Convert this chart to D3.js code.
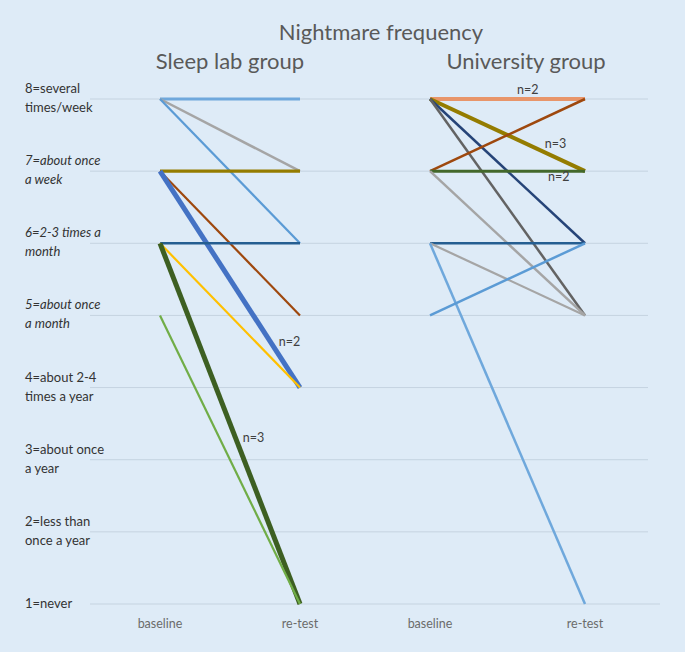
<!DOCTYPE html>
<html><head><meta charset="utf-8">
<script src="https://cdn.jsdelivr.net/npm/d3@7"></script>
<style>
html,body{margin:0;padding:0;background:#deebf7;}
svg{display:block;}
text{font-family:Lato,"Open Sans",sans-serif;}
</style></head><body>
<svg id="c" width="685" height="652"></svg>
<script>
// ---- data ----
const levels = [1,2,3,4,5,6,7,8];
const levelLabels = [
  ["1=never"],
  ["2=less than","once a year"],
  ["3=about once","a year"],
  ["4=about 2-4","times a year"],
  ["5=about once","a month"],
  ["6=2-3 times a","month"],
  ["7=about once","a week"],
  ["8=several","times/week"]
];
const italicLevels = [5,6,7];
const timepoints = ["baseline","re-test"];

const sleepBaseline = [8,8,8,7,7,7,6,6,6,5];
const sleepRetest   = [8,7,6,7,5,4,6,4,1,1];
const sleepN        = [1,1,1,1,1,2,1,1,3,1];

const uniBaseline = [8,8,8,8,7,7,7,6,6,6,5];
const uniRetest   = [8,7,6,5,8,7,5,6,5,1,6];
const uniN        = [2,3,1,1,1,2,1,1,1,1,1];

// ---- styles ----
const sleepColors = ["#6fa8dc","#a5a5a5","#5b9bd5","#947c00","#9e480e","#4472c4","#255e91","#ffc000","#3d5f22","#70ad47"];
const sleepWidths = [3,2.5,2.2,3.2,2.2,5,2.5,2.2,5,2.2];
const uniColors = ["#e8956a","#947c00","#264478","#636363","#9e480e","#43682b","#a5a5a5","#255e91","#a5a5a5","#6fa8dc","#5b9bd5"];
const uniWidths = [4,4,2.5,2.5,2.5,3,2.5,2.5,2.2,2.5,2.5];

const svg = d3.select("#c");
const y = d3.scaleLinear().domain([1,8]).range([604,99]);
const xSleep = d3.scalePoint().domain(timepoints).range([160,300]);
const xUni = d3.scalePoint().domain(timepoints).range([430,585]);

// gridlines
svg.append("g").selectAll("line").data(levels).join("line")
  .attr("x1",90).attr("x2",d=> d===1?660:648)
  .attr("y1",d=>y(d)).attr("y2",d=>y(d))
  .attr("stroke","#c5d3e0").attr("stroke-width",1);

// y labels
const yl = svg.append("g").attr("fill","#333333").attr("font-size",13);
levels.forEach((lv,i)=>{
  const lines = levelLabels[i];
  const t = yl.append("text").attr("x",25)
    .attr("font-style", italicLevels.includes(lv)?"italic":"normal");
  if(lines.length===1){
    t.append("tspan").attr("x",25).attr("y",y(lv)+4).text(lines[0]);
  } else {
    t.append("tspan").attr("x",25).attr("y",y(lv)-6).text(lines[0]);
    t.append("tspan").attr("x",25).attr("y",y(lv)+13).text(lines[1]);
  }
});

// x labels
[xSleep,xUni].forEach(xs=>{
  svg.append("g").selectAll("text").data(timepoints).join("text")
    .attr("x",d=>xs(d)).attr("y",628).attr("text-anchor","middle")
    .attr("fill","#6b6b6b").attr("font-size",12.5).text(d=>d);
});

function drawGroup(xs, base, ret, colors, widths){
  const g = svg.append("g");
  g.selectAll("line").data(base.map((b,i)=>({b, r:ret[i], i}))).join("line")
    .attr("x1",xs("baseline")).attr("x2",xs("re-test"))
    .attr("y1",d=>y(d.b)).attr("y2",d=>y(d.r))
    .attr("stroke",d=>colors[d.i]).attr("stroke-width",d=>widths[d.i])
    .attr("stroke-linecap","butt");
}
drawGroup(xSleep, sleepBaseline, sleepRetest, sleepColors, sleepWidths);
drawGroup(xUni, uniBaseline, uniRetest, uniColors, uniWidths);

// n labels
function nLabel(xs, base, ret, ns, i, t, dx, dy){
  const x0 = xs("baseline"), x1 = xs("re-test");
  const px = x0 + (x1-x0)*t, py = y(base[i]) + (y(ret[i])-y(base[i]))*t;
  svg.append("text").attr("x",px+dx).attr("y",py+dy).attr("text-anchor","middle")
    .attr("fill","#404040").attr("font-size",12.5).text("n="+ns[i]);
}
sleepN.forEach((n,i)=>{ if(n>1){
  if(sleepRetest[i]===4) nLabel(xSleep,sleepBaseline,sleepRetest,sleepN,i,0.79,19,4);
  else nLabel(xSleep,sleepBaseline,sleepRetest,sleepN,i,0.54,18,4);
}});
uniN.forEach((n,i)=>{ if(n>1){
  if(uniBaseline[i]===8 && uniRetest[i]===8) nLabel(xUni,uniBaseline,uniRetest,uniN,i,0.63,0,-5);
  else if(uniBaseline[i]===8) nLabel(xUni,uniBaseline,uniRetest,uniN,i,0.81,0,-9);
  else nLabel(xUni,uniBaseline,uniRetest,uniN,i,0.83,0,10);
}});

// titles
svg.append("text").attr("x",381).attr("y",40).attr("text-anchor","middle")
  .attr("fill","#595959").attr("font-size",22).text("Nightmare frequency");
svg.append("text").attr("x",230).attr("y",69).attr("text-anchor","middle")
  .attr("fill","#595959").attr("font-size",22).text("Sleep lab group");
svg.append("text").attr("x",526).attr("y",69).attr("text-anchor","middle")
  .attr("fill","#595959").attr("font-size",22).text("University group");
</script>
</body></html>
